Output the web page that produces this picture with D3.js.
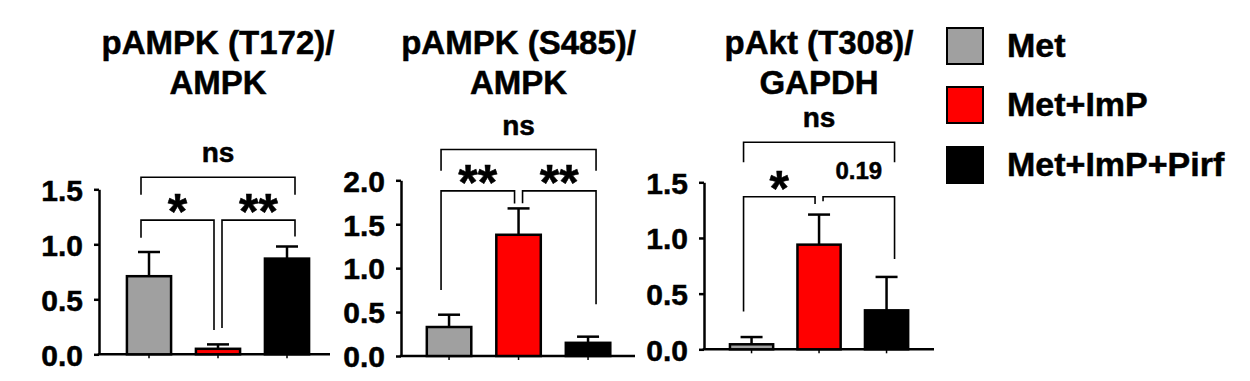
<!DOCTYPE html>
<html>
<head>
<meta charset="utf-8">
<script src="https://cdn.jsdelivr.net/npm/d3@7"></script>
<style>
  body { margin: 0; background: #fff; }
  svg { display: block; font-family: "Liberation Sans", Arial, sans-serif; font-weight: bold; }
  svg text { stroke: #000; stroke-width: 0.5px; }
</style>
</head>
<body>
<div class="container"></div>
<script>
// groups shown in every panel
var categories = ['Met', 'Met+ImP', 'Met+ImP+Pirf'];
var colors = ['#a0a0a0', '#ff0000', '#000000'];

// panel titles (two lines each)
var titles = [
    ['pAMPK (T172)/', 'AMPK'],
    ['pAMPK (S485)/', 'AMPK'],
    ['pAkt (T308)/', 'GAPDH']
];

// means and SEM
var t172Mean = [0.71, 0.05, 0.87];
var t172Sem = [0.22, 0.04, 0.11];
var s485Mean = [0.33, 1.38, 0.15];
var s485Sem = [0.14, 0.30, 0.07];
var aktMean = [0.045, 0.94, 0.35];
var aktSem = [0.065, 0.27, 0.30];

var ticks15 = [0, 0.5, 1.0, 1.5];
var ticks20 = [0, 0.5, 1.0, 1.5, 2.0];

// significance brackets: bar a to bar b, top height, leg ends, label
var t172Brackets = [
    {a: 0, b: 2, top: 1.61, legA: 1.45, legB: 1.45, label: 'ns', kind: 'ns'},
    {a: 0, b: 1, top: 1.22, legA: 1.06, legB: 0.22, label: '*', kind: 'star'},
    {a: 1, b: 2, top: 1.22, legA: 0.24, legB: 1.07, label: '**', kind: 'star'}
];
var s485Brackets = [
    {a: 0, b: 2, top: 2.35, legA: 2.11, legB: 2.11, label: 'ns', kind: 'ns'},
    {a: 0, b: 1, top: 1.88, legA: 0.75, legB: 1.735, label: '**', kind: 'star'},
    {a: 1, b: 2, top: 1.88, legA: 1.74, legB: 0.59, label: '**', kind: 'star'}
];
var aktBrackets = [
    {a: 0, b: 2, top: 1.86, legA: 1.68, legB: 1.68, label: 'ns', kind: 'ns'},
    {a: 0, b: 1, top: 1.37, legA: 0.34, legB: 1.305, label: '*', kind: 'star'},
    {a: 1, b: 2, top: 1.37, legA: 1.33, legB: 0.81, label: '0.19', kind: 'p'}
];

var drawChart = function () {
    var WIDTH = 1250, HEIGHT = 381;

    var svg = d3.select('.container').append('svg')
        .attr('width', WIDTH)
        .attr('height', HEIGHT);

    var panels = [
        {title: titles[0], mean: t172Mean, sem: t172Sem, ticks: ticks15, max: 1.5, brackets: t172Brackets,
            axisX: 99, y0: 354.3, yTop: 189.3, xEnd: 330, band: [114.5, 321.5]},
        {title: titles[1], mean: s485Mean, sem: s485Sem, ticks: ticks20, max: 2.0, brackets: s485Brackets,
            axisX: 401, y0: 356, yTop: 180.3, xEnd: 635, band: [414.3, 622.8]},
        {title: titles[2], mean: aktMean, sem: aktSem, ticks: ticks15, max: 1.5, brackets: aktBrackets,
            axisX: 704, y0: 349.3, yTop: 182.3, xEnd: 934, band: [717.8, 920.3]}
    ];

    panels.forEach(function (p) {
        var x = d3.scaleBand()
            .domain(categories)
            .range(p.band)
            .paddingInner(0.36)
            .paddingOuter(0.18);

        var y = d3.scaleLinear()
            .domain([0, p.max])
            .range([p.y0, p.yTop]);

        var g = svg.append('g');
        var cx = function (i) { return x(categories[i]) + x.bandwidth() / 2; };

        // title
        var title = g.append('text')
            .attr('text-anchor', 'middle')
            .attr('font-size', 33)
            .attr('fill', '#000');
        title.append('tspan').attr('x', cx(1)).attr('y', 54).text(p.title[0]);
        title.append('tspan').attr('x', cx(1)).attr('y', 94).text(p.title[1]);

        // y axis
        var yAxis = d3.axisLeft(y)
            .tickValues(p.ticks)
            .tickFormat(d3.format('.1f'))
            .tickSize(5)
            .tickSizeOuter(0)
            .tickPadding(11);

        var ya = g.append('g')
            .attr('transform', 'translate(' + p.axisX + ',0)')
            .call(yAxis);
        ya.select('.domain').attr('stroke-width', 2.5);
        ya.selectAll('.tick line').attr('stroke-width', 2.5);
        ya.selectAll('.tick text')
            .attr('font-size', 30)
            .attr('font-family', '"Liberation Sans", Arial, sans-serif')
            .attr('font-weight', 'bold')
            .attr('fill', '#000')
            .attr('dy', '0.36em');

        // x axis: ticks under bars, line drawn across
        var xa = g.append('g')
            .attr('transform', 'translate(0,' + p.y0 + ')')
            .call(d3.axisBottom(x).tickSize(4).tickSizeOuter(0).tickFormat(''));
        xa.select('.domain').remove();
        xa.selectAll('.tick line').attr('stroke-width', 1.5);
        g.append('line')
            .attr('x1', p.axisX - 1.25).attr('x2', p.xEnd)
            .attr('y1', p.y0).attr('y2', p.y0)
            .attr('stroke', '#000').attr('stroke-width', 2.5);

        // error bars (upper only)
        var errs = g.append('g').selectAll('g')
            .data(p.mean)
            .join('g');
        errs.append('line')
            .attr('x1', function (d, i) { return cx(i); })
            .attr('x2', function (d, i) { return cx(i); })
            .attr('y1', function (d) { return y(d); })
            .attr('y2', function (d, i) { return y(d + p.sem[i]); })
            .attr('stroke', '#000').attr('stroke-width', 2.5);
        errs.append('line')
            .attr('x1', function (d, i) { return cx(i) - 11; })
            .attr('x2', function (d, i) { return cx(i) + 11; })
            .attr('y1', function (d, i) { return y(d + p.sem[i]); })
            .attr('y2', function (d, i) { return y(d + p.sem[i]); })
            .attr('stroke', '#000').attr('stroke-width', 2.5);

        // bars
        g.append('g').selectAll('rect')
            .data(p.mean)
            .join('rect')
            .attr('x', function (d, i) { return x(categories[i]); })
            .attr('width', x.bandwidth())
            .attr('y', function (d) { return y(d); })
            .attr('height', function (d) { return p.y0 - y(d); })
            .attr('fill', function (d, i) { return colors[i]; })
            .attr('stroke', '#000')
            .attr('stroke-width', 2.5);

        // brackets
        p.brackets.forEach(function (b) {
            var xa1, xb1;
            if (b.a === 0 && b.b === 2) {
                xa1 = cx(0) - 8; xb1 = cx(2) + 8;
            } else if (b.a === 0) {
                xa1 = cx(0) - 8; xb1 = cx(1) - 4;
            } else {
                xa1 = cx(1) + 4; xb1 = cx(2) + 8;
            }
            var yt = y(b.top);
            var path = d3.path();
            path.moveTo(xa1, y(b.legA));
            path.lineTo(xa1, yt);
            path.lineTo(xb1, yt);
            path.lineTo(xb1, y(b.legB));
            g.append('path')
                .attr('d', path.toString())
                .attr('fill', 'none')
                .attr('stroke', '#000')
                .attr('stroke-width', 1.6);

            var lab = g.append('text')
                .attr('x', (xa1 + xb1) / 2)
                .attr('text-anchor', 'middle')
                .attr('fill', '#000')
                .text(b.label);
            if (b.kind === 'ns') {
                lab.attr('y', yt - 15).attr('font-size', 28);
            } else if (b.kind === 'star') {
                lab.attr('y', yt + 9).attr('font-size', 50);
            } else {
                lab.attr('y', yt - 18).attr('font-size', 24);
            }
        });
    });

    // legend
    var legend = svg.append('g')
        .selectAll('g')
        .data(categories)
        .join('g')
        .attr('transform', function (d, i) { return 'translate(946,' + [27, 86, 146][i] + ')'; });
    legend.append('rect')
        .attr('x', 1).attr('y', 1)
        .attr('width', 36).attr('height', 36)
        .attr('fill', function (d, i) { return colors[i]; })
        .attr('stroke', '#000')
        .attr('stroke-width', 2);
    legend.append('text')
        .attr('x', 61)
        .attr('y', 30)
        .attr('font-size', 34)
        .attr('fill', '#000')
        .text(function (d) { return d; });
};

window.onload = drawChart;
</script>
</body>
</html>
